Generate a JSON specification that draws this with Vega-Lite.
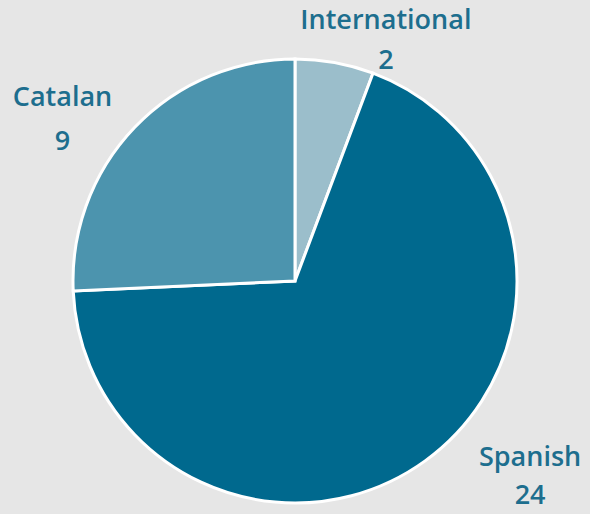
{
  "$schema": "https://vega.github.io/schema/vega-lite/v6.json",
  "width": 590,
  "height": 466,
  "padding": {"left": 0, "right": 0, "top": 48, "bottom": 0},
  "autosize": {"type": "none"},
  "background": "#E6E6E6",
  "config": {"view": {"stroke": null}},
  "data": {"values": [
    {"category": "International", "count": 2},
    {"category": "Spanish", "count": 24},
    {"category": "Catalan", "count": 9}
  ]},
  "transform": [{"calculate": "datum.category + '\\n' + datum.count", "as": "label"}],
  "encoding": {
    "theta": {"field": "count", "type": "quantitative", "stack": true, "scale": {"range": [-1.615677, 4.667508]}}
  },
  "layer": [
    {
      "mark": {"type": "arc", "outerRadius": 222, "stroke": "white", "strokeWidth": 3},
      "encoding": {
        "color": {"field": "category", "type": "nominal", "legend": null,
          "scale": {"domain": ["Catalan", "International", "Spanish"], "range": ["#4C94AE", "#9BBECB", "#00698E"]}}
      }
    },
    {
      "mark": {"type": "text", "radius": 240, "dx": 48, "dy": -16, "align": "center", "baseline": "alphabetic", "font": "Open Sans", "fontSize": 27, "fontWeight": 600, "color": "#1D6E8E", "lineBreak": "\n", "lineHeight": 40},
      "encoding": {
        "detail": {"field": "category", "type": "nominal"},
        "text": {"condition": {"test": "datum.category === 'International'", "field": "label"}, "value": ""}
      }
    },
    {
      "mark": {"type": "text", "radius": 240, "dx": 94, "dy": -9, "align": "center", "baseline": "alphabetic", "font": "Open Sans", "fontSize": 27, "fontWeight": 600, "color": "#1D6E8E", "lineBreak": "\n", "lineHeight": 38},
      "encoding": {
        "detail": {"field": "category", "type": "nominal"},
        "text": {"condition": {"test": "datum.category === 'Spanish'", "field": "label"}, "value": ""}
      }
    },
    {
      "mark": {"type": "text", "radius": 240, "dx": -59, "dy": -9, "align": "center", "baseline": "alphabetic", "font": "Open Sans", "fontSize": 27, "fontWeight": 600, "color": "#1D6E8E", "lineBreak": "\n", "lineHeight": 44},
      "encoding": {
        "detail": {"field": "category", "type": "nominal"},
        "text": {"condition": {"test": "datum.category === 'Catalan'", "field": "label"}, "value": ""}
      }
    }
  ]
}
